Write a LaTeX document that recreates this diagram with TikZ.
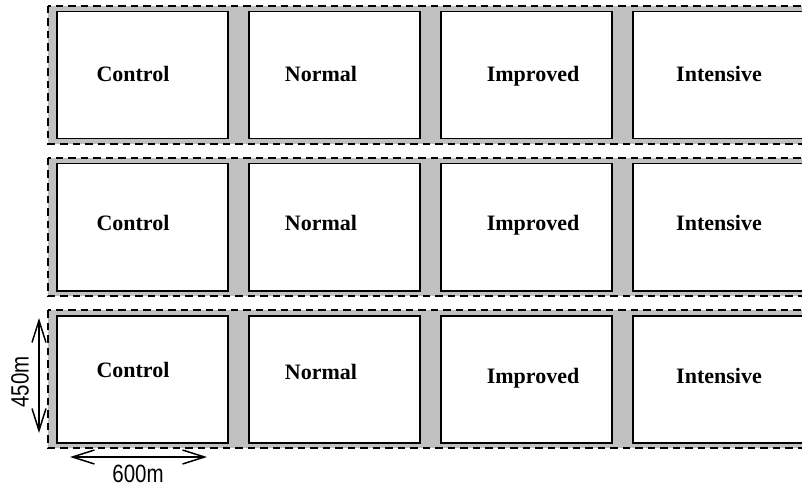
\documentclass[tikz,border=0pt]{standalone}
\usepackage{fontspec}
\setmainfont{Liberation Serif}
\newfontfamily\dimfont[FakeStretch=0.82]{Liberation Sans}
\usetikzlibrary{arrows.meta}
\definecolor{stripgray}{RGB}{192,192,192}
\tikzset{
  rowband/.style={fill=stripgray, draw=black, dash pattern=on 7.5pt off 5pt, line width=1.5pt},
  plot/.style={draw=black, fill=white, line width=1.5pt, minimum width=171pt, minimum height=127pt, inner sep=0pt, anchor=north west},
  plotlabel/.style={font=\fontsize{22}{24}\selectfont\bfseries, anchor=base, inner sep=0pt},
  dimlabel/.style={font=\dimfont\fontsize{25}{27}\selectfont, inner sep=0pt},
  dimarrow/.style={line width=1.5pt, {Straight Barb[length=22pt,width=14pt,line width=1.5pt]}-{Straight Barb[length=22pt,width=14pt,line width=1.5pt]}}
}
\begin{document}
\begin{tikzpicture}[x=1pt,y=-1pt]
\useasboundingbox (0,0) rectangle (802,489);
\clip (0,0) rectangle (802,489);
\foreach \r in {0,1,2}{
  \pgfmathsetmacro{\T}{6+152*\r}
  \draw[rowband] (48,\T) rectangle (830,\T+138);
  \foreach \i in {0,1,2,3}{
    \node[plot] (b\r\i) at (56+192*\i,\T+5) {};
  }
}
% labels
\node[plotlabel] (l00) at (133,82) {Control};
\node[plotlabel] (l01) at (321,82) {Normal};
\node[plotlabel] (l02) at (533,82) {Improved};
\node[plotlabel] (l03) at (719,82) {Intensive};
\node[plotlabel] (l10) at (133,230) {Control};
\node[plotlabel] (l11) at (321,230) {Normal};
\node[plotlabel] (l12) at (533,230) {Improved};
\node[plotlabel] (l13) at (719,230) {Intensive};
\node[plotlabel] (l20) at (133,377) {Control};
\node[plotlabel] (l21) at (321,379) {Normal};
\node[plotlabel] (l22) at (533,383) {Improved};
\node[plotlabel] (l23) at (719,383) {Intensive};
% dimensions
\coordinate (vt) at (39,318);
\coordinate (vb) at (39,433);
\coordinate (hl) at (70,457);
\coordinate (hr) at (207,457);
\draw[dimarrow] (vt) -- (vb);
\draw[dimarrow] (hl) -- (hr);
\node[dimlabel, rotate=90] (d450) at (20,382) {450m};
\node[dimlabel] (d600) at (138,474) {600m};
\end{tikzpicture}
\end{document}
